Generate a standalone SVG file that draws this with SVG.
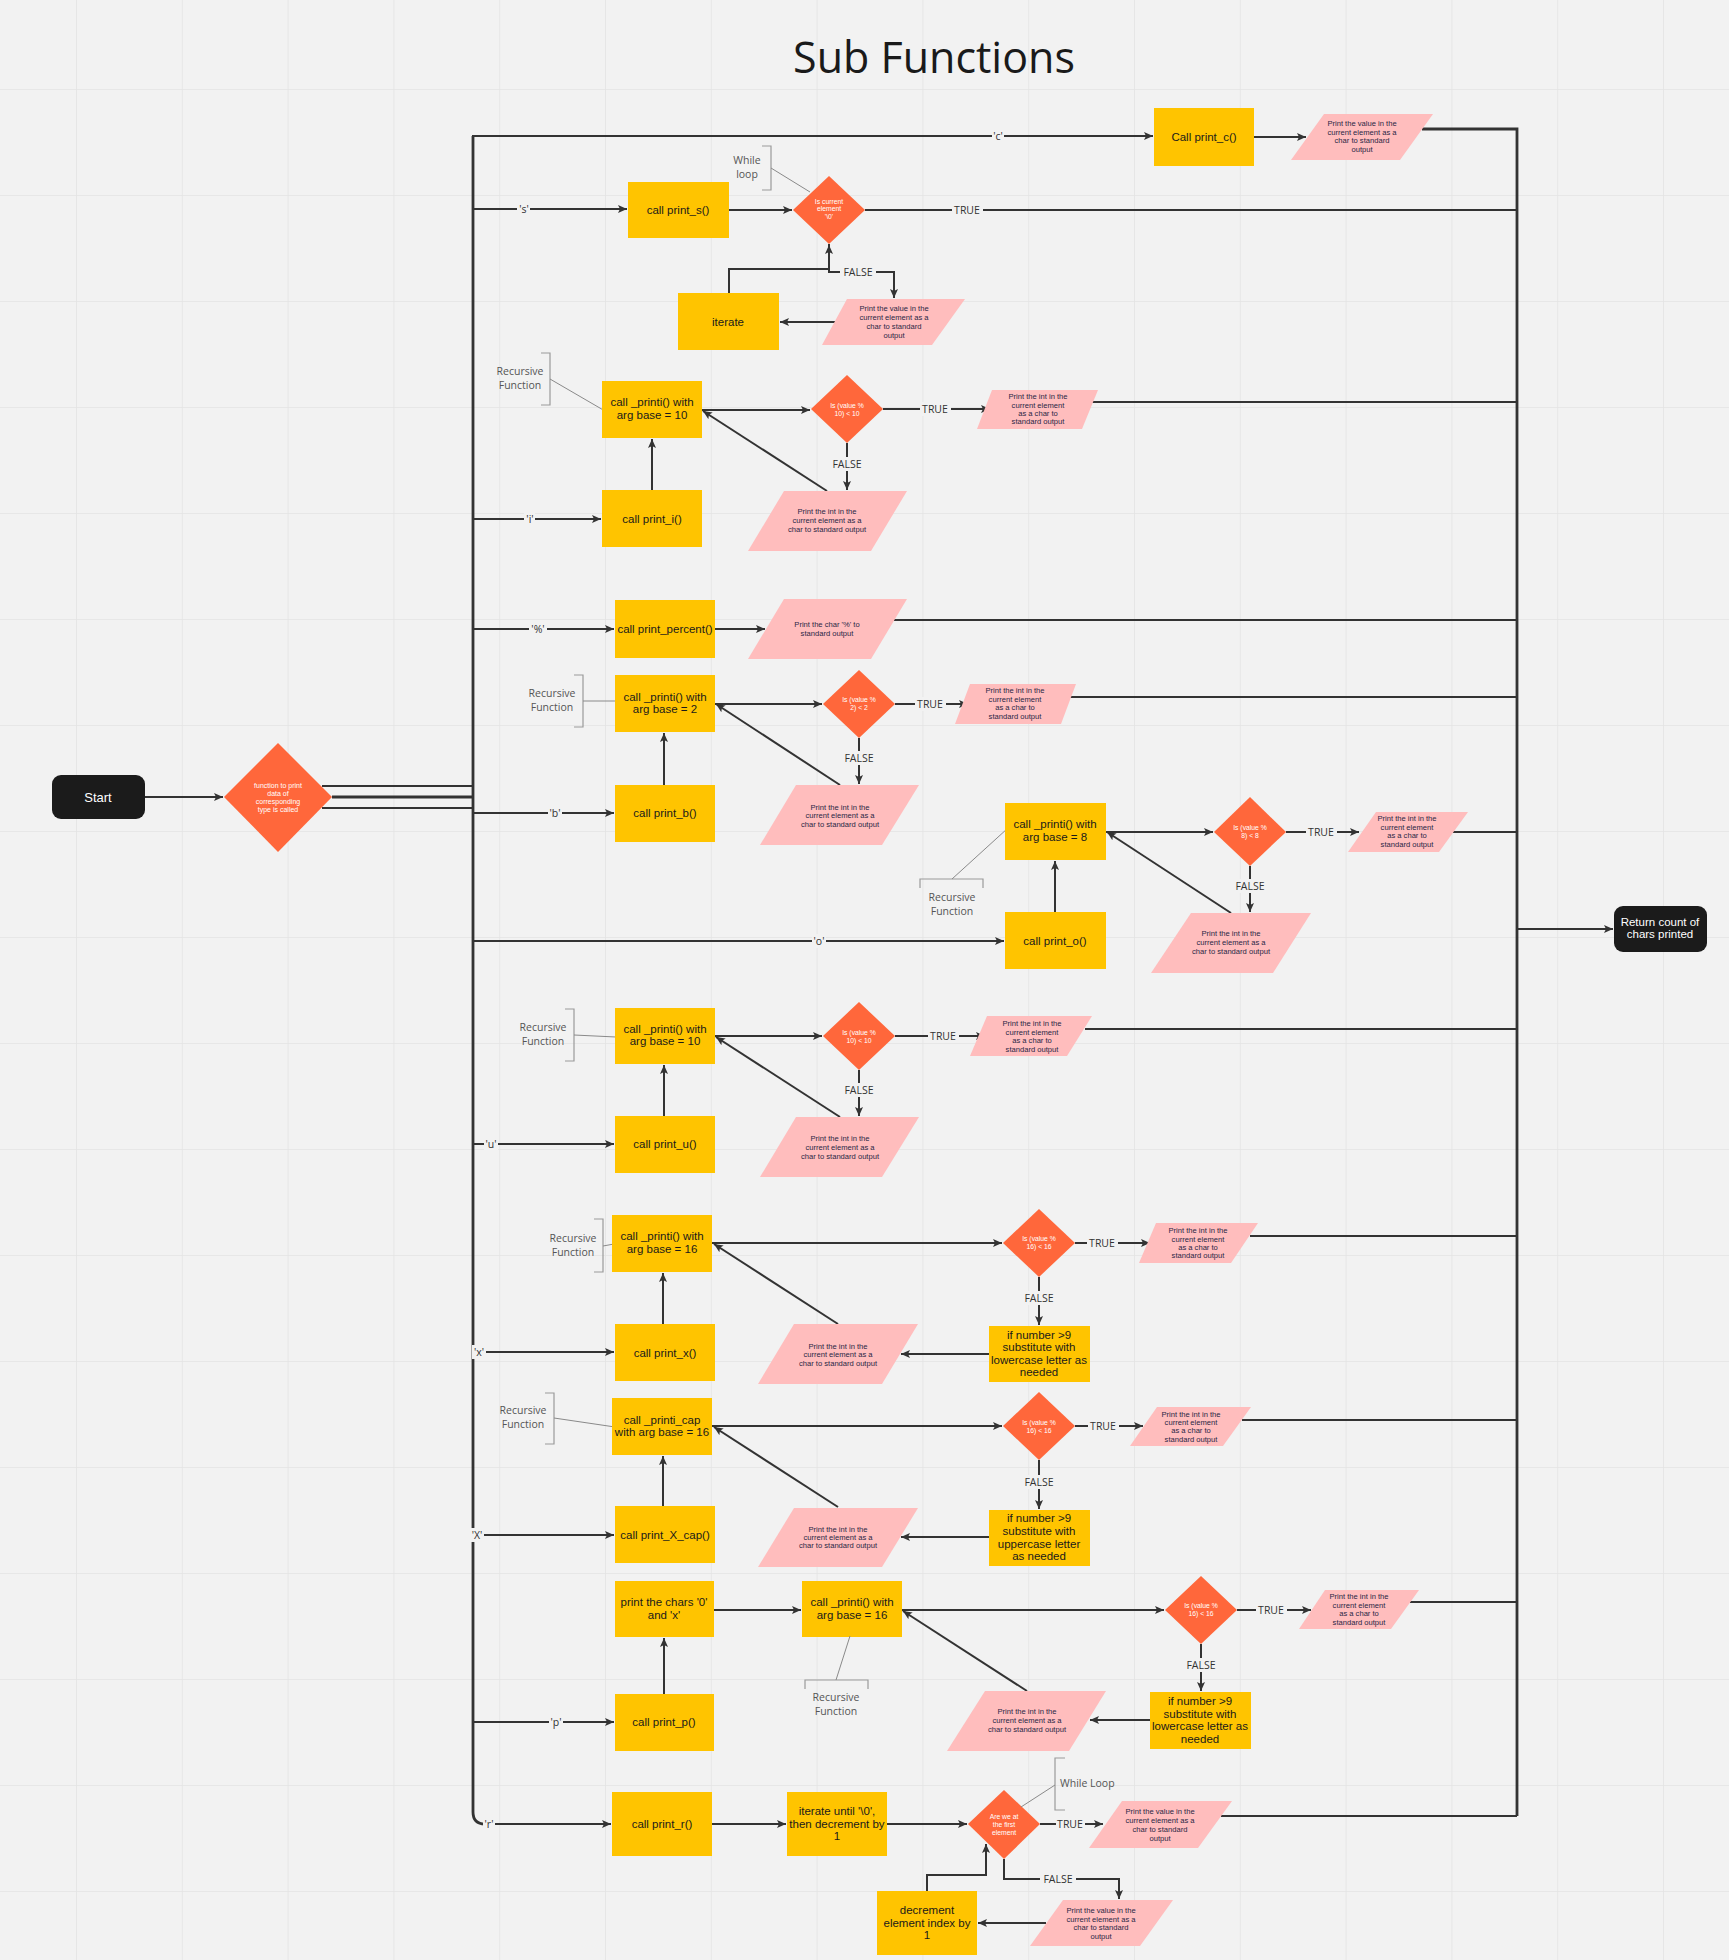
<svg xmlns="http://www.w3.org/2000/svg" width="1729" height="1960" viewBox="0 0 1729 1960">
<defs>
<pattern id="grid" x="76" y="89" width="105.8" height="106" patternUnits="userSpaceOnUse">
<path d="M0,0 V106 M0,0 H105.8" stroke="#e4e4e4" stroke-width="1.6" fill="none"/>
</pattern>
<marker id="ah" markerUnits="userSpaceOnUse" markerWidth="10" markerHeight="10" refX="9" refY="5" orient="auto">
<path d="M0,1 L9,5 L0,9 L2,5 z" fill="#333"/>
</marker>
<style>
.box{fill:#ffc400}
.dia{fill:#ff673b}
.par{fill:#ffbdbd}
.term{fill:#1b1b1b}
.e{stroke:#333;stroke-width:2;fill:none}
.eb{stroke:#333;stroke-width:2.8;fill:none}
.ea{stroke:#333;stroke-width:2;fill:none;marker-end:url(#ah)}
.an{stroke:#8a8a8a;stroke-width:1;fill:none}
.br{stroke:#9a9a9a;stroke-width:1.2;fill:none}
.bt{font-family:"Liberation Sans",Arial,sans-serif;font-size:11.5px;fill:#1a1a1a;text-anchor:middle}
.wt{font-family:"Liberation Sans",Arial,sans-serif;font-size:12px;fill:#ffffff;text-anchor:middle}
.dt{font-family:"Liberation Sans",Arial,sans-serif;font-size:6.8px;fill:#ffffff;text-anchor:middle}
.pt{font-family:"Liberation Sans",Arial,sans-serif;font-size:7.6px;fill:#2a2745;text-anchor:middle}
.lb{fill:#f2f2f2}
.lt{font-family:"Open Sans",sans-serif;font-size:10.5px;fill:#333;text-anchor:middle}
.at{font-family:"Open Sans",sans-serif;font-size:10.5px;fill:#555;text-anchor:middle}
.title{font-family:"Open Sans",sans-serif;font-size:43px;fill:#1a1a1a;text-anchor:middle}
</style>
</defs>
<rect width="1729" height="1960" fill="#f2f2f2"/>
<rect width="1729" height="1960" fill="url(#grid)"/>
<text class="title" x="934" y="73">Sub Functions</text>

<g id="connectors">
<!-- start to main decision -->
<path class="ea" d="M145,797 H223"/>
<path class="e" d="M322,786 H473"/>
<path class="eb" d="M332,797 H474"/>
<path class="e" d="M322,808 H473"/>
<!-- trunk -->
<path class="eb" d="M473,136 V1812 Q473,1824 485,1824"/>
<path class="ea" d="M484,1824 H611"/>
<path class="ea" d="M472,136 H1153"/>
<path class="ea" d="M473,209 H627"/>
<path class="ea" d="M473,519 H601"/>
<path class="ea" d="M473,629 H614"/>
<path class="ea" d="M473,813 H614"/>
<path class="ea" d="M473,941 H1004"/>
<path class="ea" d="M473,1144 H614"/>
<path class="ea" d="M473,1352 H614"/>
<path class="ea" d="M473,1535 H614"/>
<path class="ea" d="M473,1722 H614"/>
<!-- right bus -->
<path class="eb" d="M1422,129 H1517 V1816"/>
<path class="ea" d="M1517,929 H1613"/>
<!-- c -->
<path class="ea" d="M1254,137 H1306"/>
<!-- s -->
<path class="ea" d="M729,210 H792"/>
<path class="e" d="M865,210 H1517"/>
<path class="ea" d="M729,293 V269 H829 V245"/>
<path class="ea" d="M829,244 V272 H894 V298"/>
<path class="ea" d="M838,322 H780"/>
<!-- i -->
<path class="ea" d="M652,490 V439"/>
<path class="ea" d="M702,410 H810"/>
<path class="ea" d="M883,409 H990"/>
<path class="e" d="M1090,402 H1517"/>
<path class="ea" d="M847,443 V490"/>
<path class="ea" d="M827,491 L703,411"/>
<!-- % -->
<path class="ea" d="M715,629 H765"/>
<path class="e" d="M894,620 H1517"/>
<!-- b -->
<path class="ea" d="M664,785 V733"/>
<path class="ea" d="M715,704 H822"/>
<path class="ea" d="M895,704 H968"/>
<path class="e" d="M1068,697 H1517"/>
<path class="ea" d="M859,738 V784"/>
<path class="ea" d="M840,785 L716,704"/>
<!-- o -->
<path class="ea" d="M1055,912 V861"/>
<path class="ea" d="M1106,832 H1213"/>
<path class="ea" d="M1286,832 H1359"/>
<path class="e" d="M1453,832 H1517"/>
<path class="ea" d="M1250,866 V912"/>
<path class="ea" d="M1231,913 L1107,832"/>
<!-- u -->
<path class="ea" d="M664,1116 V1065"/>
<path class="ea" d="M715,1036 H822"/>
<path class="ea" d="M895,1036 H985"/>
<path class="e" d="M1085,1029 H1517"/>
<path class="ea" d="M859,1070 V1116"/>
<path class="ea" d="M840,1117 L716,1037"/>
<!-- x -->
<path class="ea" d="M663,1324 V1273"/>
<path class="ea" d="M712,1243 H1002"/>
<path class="ea" d="M1075,1243 H1150"/>
<path class="e" d="M1250,1236 H1517"/>
<path class="ea" d="M1039,1277 V1325"/>
<path class="ea" d="M989,1354 H901"/>
<path class="ea" d="M838,1324 L714,1244"/>
<!-- X -->
<path class="ea" d="M663,1506 V1456"/>
<path class="ea" d="M712,1426 H1002"/>
<path class="ea" d="M1075,1426 H1143"/>
<path class="e" d="M1242,1420 H1517"/>
<path class="ea" d="M1039,1460 V1509"/>
<path class="ea" d="M989,1537 H901"/>
<path class="ea" d="M838,1507 L714,1427"/>
<!-- p -->
<path class="ea" d="M664,1694 V1638"/>
<path class="ea" d="M714,1610 H801"/>
<path class="ea" d="M902,1610 H1164"/>
<path class="ea" d="M1237,1610 H1311"/>
<path class="e" d="M1410,1602 H1517"/>
<path class="ea" d="M1201,1644 V1691"/>
<path class="ea" d="M1150,1720 H1090"/>
<path class="ea" d="M1027,1691 L903,1611"/>
<!-- r -->
<path class="ea" d="M712,1824 H786"/>
<path class="ea" d="M887,1824 H967"/>
<path class="ea" d="M1040,1824 H1103"/>
<path class="e" d="M1221,1816 H1517"/>
<path class="ea" d="M1004,1859 V1879 H1119 V1899"/>
<path class="ea" d="M1046,1923 H978"/>
<path class="ea" d="M927,1891 V1875 H986 V1844"/>

<!-- labels -->
<rect class="lb" x="992" y="129" width="12" height="14"/><text class="lt" x="998" y="140">'c'</text>
<rect class="lb" x="517" y="202" width="13" height="14"/><text class="lt" x="524" y="213">'s'</text>
<rect class="lb" x="952" y="203" width="31" height="14"/><text class="lt" x="967" y="214">TRUE</text>
<rect class="lb" x="840" y="265" width="36" height="14"/><text class="lt" x="858" y="276">FALSE</text>
<rect class="lb" x="524" y="512" width="11" height="14"/><text class="lt" x="530" y="523">'i'</text>
<rect class="lb" x="920" y="402" width="31" height="14"/><text class="lt" x="935" y="413">TRUE</text>
<rect class="lb" x="829" y="457" width="36" height="14"/><text class="lt" x="847" y="468">FALSE</text>
<rect class="lb" x="529" y="622" width="18" height="14"/><text class="lt" x="538" y="633">'%'</text>
<rect class="lb" x="915" y="697" width="31" height="14"/><text class="lt" x="930" y="708">TRUE</text>
<rect class="lb" x="841" y="751" width="36" height="14"/><text class="lt" x="859" y="762">FALSE</text>
<rect class="lb" x="548" y="806" width="14" height="14"/><text class="lt" x="555" y="817">'b'</text>
<rect class="lb" x="1306" y="825" width="31" height="14"/><text class="lt" x="1321" y="836">TRUE</text>
<rect class="lb" x="1232" y="879" width="36" height="14"/><text class="lt" x="1250" y="890">FALSE</text>
<rect class="lb" x="812" y="934" width="14" height="14"/><text class="lt" x="819" y="945">'o'</text>
<rect class="lb" x="484" y="1137" width="14" height="14"/><text class="lt" x="491" y="1148">'u'</text>
<rect class="lb" x="928" y="1029" width="31" height="14"/><text class="lt" x="943" y="1040">TRUE</text>
<rect class="lb" x="841" y="1083" width="36" height="14"/><text class="lt" x="859" y="1094">FALSE</text>
<rect class="lb" x="472" y="1345" width="14" height="14"/><text class="lt" x="479" y="1356">'x'</text>
<rect class="lb" x="1087" y="1236" width="31" height="14"/><text class="lt" x="1102" y="1247">TRUE</text>
<rect class="lb" x="1021" y="1291" width="36" height="14"/><text class="lt" x="1039" y="1302">FALSE</text>
<rect class="lb" x="470" y="1528" width="14" height="14"/><text class="lt" x="477" y="1539">'X'</text>
<rect class="lb" x="1088" y="1419" width="31" height="14"/><text class="lt" x="1103" y="1430">TRUE</text>
<rect class="lb" x="1021" y="1475" width="36" height="14"/><text class="lt" x="1039" y="1486">FALSE</text>
<rect class="lb" x="549" y="1715" width="14" height="14"/><text class="lt" x="556" y="1726">'p'</text>
<rect class="lb" x="1256" y="1603" width="31" height="14"/><text class="lt" x="1271" y="1614">TRUE</text>
<rect class="lb" x="1183" y="1658" width="36" height="14"/><text class="lt" x="1201" y="1669">FALSE</text>
<rect class="lb" x="483" y="1817" width="12" height="14"/><text class="lt" x="489" y="1828">'r'</text>
<rect class="lb" x="1056" y="1817" width="29" height="14"/><text class="lt" x="1070" y="1828">TRUE</text>
<rect class="lb" x="1040" y="1872" width="36" height="14"/><text class="lt" x="1058" y="1883">FALSE</text>
</g>

<g id="start"><rect class="term" x="52" y="775" width="93" height="44" rx="9"/><text class="wt" x="98" y="802" style="font-size:13px">Start</text></g>
<g id="main-decision"><polygon class="dia" points="278,743 332,797 278,852 224,797"/>
<text class="dt" x="278" y="787.5" style="font-size:7px">function to print</text><text class="dt" x="278" y="795.5" style="font-size:7px">data of</text><text class="dt" x="278" y="803.5" style="font-size:7px">corresponding</text><text class="dt" x="278" y="811.5" style="font-size:7px">type is called</text></g>
<g id="return"><rect class="term" x="1614" y="906" width="93" height="46" rx="9"/><text class="wt" x="1660" y="926" style="font-size:11.5px">Return count of</text><text class="wt" x="1660" y="938" style="font-size:11.5px">chars printed</text></g>

<!-- c -->
<g id="print-c"><rect class="box" x="1154" y="108" width="100" height="58"/><text class="bt" x="1204" y="141">Call print_c()</text></g>
<g id="c-out"><polygon class="par" points="1324,114 1433,114 1400,160 1291,160"/><text class="pt" x="1362" y="125.5">Print the value in the</text><text class="pt" x="1362" y="134.5">current element as a</text><text class="pt" x="1362" y="142.5">char to standard</text><text class="pt" x="1362" y="151.5">output</text></g>

<!-- s -->
<g id="print-s"><rect class="box" x="628" y="182" width="101" height="56"/><text class="bt" x="678" y="214">call print_s()</text></g>
<g id="s-dec"><polygon class="dia" points="829,176 865,210 829,244 793,210"/><text class="dt" x="829" y="204">Is current</text><text class="dt" x="829" y="211">element</text><text class="dt" x="829" y="219">'\0'</text></g>
<g id="s-out"><polygon class="par" points="847,299 965,299 932,345 822,345"/><text class="pt" x="894" y="310.5">Print the value in the</text><text class="pt" x="894" y="320">current element as a</text><text class="pt" x="894" y="328.5">char to standard</text><text class="pt" x="894" y="337.5">output</text></g>
<g id="s-iterate"><rect class="box" x="678" y="293" width="101" height="57"/><text class="bt" x="728" y="326">iterate</text></g>
<g id="s-note"><path class="br" d="M762,146 H771 V190 H762"/><path class="an" d="M771,168 L810,192"/><text class="at" x="747" y="164">While</text><text class="at" x="747" y="178">loop</text></g>

<!-- i -->
<g id="i-note"><path class="br" d="M541,353 H550 V405 H541"/><path class="an" d="M550,379 L605,411"/><text class="at" x="520" y="375">Recursive</text><text class="at" x="520" y="389">Function</text></g>
<g id="i-printi"><rect class="box" x="602" y="381" width="100" height="57"/><text class="bt" x="652" y="406">call _printi() with</text><text class="bt" x="652" y="419">arg base = 10</text></g>
<g id="i-dec"><polygon class="dia" points="847,375 883,409 847,443 811,409"/><text class="dt" x="847" y="407.5">Is (value %</text><text class="dt" x="847" y="415.5">10) &lt; 10</text></g>
<g id="i-true"><polygon class="par" points="992,390 1098,390 1082,429 977,429"/><text class="pt" x="1038" y="398.5">Print the int in the</text><text class="pt" x="1038" y="407.5">current element</text><text class="pt" x="1038" y="415.5">as a char to</text><text class="pt" x="1038" y="423.5">standard output</text></g>
<g id="i-false"><polygon class="par" points="784,491 907,491 871,551 748,551"/><text class="pt" x="827" y="513.5">Print the int in the</text><text class="pt" x="827" y="522.5">current element as a</text><text class="pt" x="827" y="531.5">char to standard output</text></g>
<g id="print-i"><rect class="box" x="602" y="490" width="100" height="57"/><text class="bt" x="652" y="523">call print_i()</text></g>

<!-- % -->
<g id="print-percent"><rect class="box" x="615" y="600" width="100" height="58"/><text class="bt" x="665" y="633">call print_percent()</text></g>
<g id="percent-out"><polygon class="par" points="784,599 907,599 871,659 748,659"/><text class="pt" x="827" y="626.5">Print the char '%'  to</text><text class="pt" x="827" y="635.5">standard output</text></g>

<!-- b -->
<g id="b-note"><path class="br" d="M574,675 H583 V727 H574"/><path class="an" d="M583,701 H615"/><text class="at" x="552" y="697">Recursive</text><text class="at" x="552" y="711">Function</text></g>
<g id="b-printi"><rect class="box" x="615" y="675" width="100" height="57"/><text class="bt" x="665" y="701">call _printi() with</text><text class="bt" x="665" y="713">arg base = 2</text></g>
<g id="b-dec"><polygon class="dia" points="859,670 895,704 859,738 823,704"/><text class="dt" x="859" y="701.5">Is (value %</text><text class="dt" x="859" y="709.5">2) &lt; 2</text></g>
<g id="b-true"><polygon class="par" points="970,684 1076,684 1061,724 955,724"/><text class="pt" x="1015" y="692.5">Print the int in the</text><text class="pt" x="1015" y="701.5">current element</text><text class="pt" x="1015" y="709.5">as a char to</text><text class="pt" x="1015" y="718.5">standard output</text></g>
<g id="b-false"><polygon class="par" points="796,785 919,785 882,845 760,845"/><text class="pt" x="840" y="809.5">Print the int in the</text><text class="pt" x="840" y="817.5">current element as a</text><text class="pt" x="840" y="826.5">char to standard output</text></g>
<g id="print-b"><rect class="box" x="615" y="785" width="100" height="57"/><text class="bt" x="665" y="817">call print_b()</text></g>

<!-- o -->
<g id="o-note"><path class="br" d="M920,888 V879 H983 V888"/><path class="an" d="M952,879 L1008,828"/><text class="at" x="952" y="901">Recursive</text><text class="at" x="952" y="915">Function</text></g>
<g id="o-printi"><rect class="box" x="1005" y="803" width="101" height="57"/><text class="bt" x="1055" y="828">call _printi() with</text><text class="bt" x="1055" y="841">arg base = 8</text></g>
<g id="o-dec"><polygon class="dia" points="1250,797 1286,832 1250,866 1214,832"/><text class="dt" x="1250" y="829.5">Is (value %</text><text class="dt" x="1250" y="837.5">8) &lt; 8</text></g>
<g id="o-true"><polygon class="par" points="1376,812 1468,812 1439,852 1348,852"/><text class="pt" x="1407" y="820.5">Print the int in the</text><text class="pt" x="1407" y="829.5">current element</text><text class="pt" x="1407" y="837.5">as a char to</text><text class="pt" x="1407" y="846.5">standard output</text></g>
<g id="o-false"><polygon class="par" points="1191,913 1311,913 1273,973 1151,973"/><text class="pt" x="1231" y="935.5">Print the int in the</text><text class="pt" x="1231" y="944.5">current element as a</text><text class="pt" x="1231" y="953.5">char to standard output</text></g>
<g id="print-o"><rect class="box" x="1005" y="912" width="101" height="57"/><text class="bt" x="1055" y="945">call print_o()</text></g>

<!-- u -->
<g id="u-note"><path class="br" d="M565,1009 H574 V1061 H565"/><path class="an" d="M574,1035 L616,1037"/><text class="at" x="543" y="1031">Recursive</text><text class="at" x="543" y="1045">Function</text></g>
<g id="u-printi"><rect class="box" x="615" y="1008" width="100" height="56"/><text class="bt" x="665" y="1033">call _printi() with</text><text class="bt" x="665" y="1045">arg base = 10</text></g>
<g id="u-dec"><polygon class="dia" points="859,1002 895,1036 859,1070 823,1036"/><text class="dt" x="859" y="1034.5">Is (value %</text><text class="dt" x="859" y="1042.5">10) &lt; 10</text></g>
<g id="u-true"><polygon class="par" points="987,1016 1092,1016 1067,1056 970,1056"/><text class="pt" x="1032" y="1025.5">Print the int in the</text><text class="pt" x="1032" y="1034.5">current element</text><text class="pt" x="1032" y="1042.5">as a char to</text><text class="pt" x="1032" y="1051.5">standard output</text></g>
<g id="u-false"><polygon class="par" points="796,1117 919,1117 882,1177 760,1177"/><text class="pt" x="840" y="1140.5">Print the int in the</text><text class="pt" x="840" y="1149.5">current element as a</text><text class="pt" x="840" y="1158.5">char to standard output</text></g>
<g id="print-u"><rect class="box" x="615" y="1116" width="100" height="57"/><text class="bt" x="665" y="1148">call print_u()</text></g>

<!-- x -->
<g id="x-note"><path class="br" d="M594,1219 H603 V1272 H594"/><path class="an" d="M603,1246 L614,1244"/><text class="at" x="573" y="1242">Recursive</text><text class="at" x="573" y="1256">Function</text></g>
<g id="x-printi"><rect class="box" x="612" y="1215" width="100" height="57"/><text class="bt" x="662" y="1240">call _printi() with</text><text class="bt" x="662" y="1253">arg base = 16</text></g>
<g id="x-dec"><polygon class="dia" points="1039,1209 1075,1243 1039,1277 1003,1243"/><text class="dt" x="1039" y="1240.5">Is (value %</text><text class="dt" x="1039" y="1248.5">16) &lt; 16</text></g>
<g id="x-true"><polygon class="par" points="1156,1223 1258,1223 1231,1263 1139,1263"/><text class="pt" x="1198" y="1232.5">Print the int in the</text><text class="pt" x="1198" y="1241.5">current element</text><text class="pt" x="1198" y="1249.5">as a char to</text><text class="pt" x="1198" y="1257.5">standard output</text></g>
<g id="x-sub"><rect class="box" x="989" y="1326" width="101" height="56"/><text class="bt" x="1039" y="1339">if number &gt;9</text><text class="bt" x="1039" y="1351">substitute with</text><text class="bt" x="1039" y="1364">lowercase letter as</text><text class="bt" x="1039" y="1376">needed</text></g>
<g id="x-false"><polygon class="par" points="794,1324 918,1324 882,1384 758,1384"/><text class="pt" x="838" y="1348.5">Print the int in the</text><text class="pt" x="838" y="1356.5">current element as a</text><text class="pt" x="838" y="1365.5">char to standard output</text></g>
<g id="print-x"><rect class="box" x="615" y="1324" width="100" height="57"/><text class="bt" x="665" y="1357">call print_x()</text></g>

<!-- X -->
<g id="X-note"><path class="br" d="M545,1393 H554 V1444 H545"/><path class="an" d="M554,1418 L615,1427"/><text class="at" x="523" y="1414">Recursive</text><text class="at" x="523" y="1428">Function</text></g>
<g id="X-printi"><rect class="box" x="612" y="1398" width="100" height="57"/><text class="bt" x="662" y="1424">call _printi_cap</text><text class="bt" x="662" y="1436">with arg base = 16</text></g>
<g id="X-dec"><polygon class="dia" points="1039,1392 1075,1426 1039,1460 1003,1426"/><text class="dt" x="1039" y="1424.5">Is (value %</text><text class="dt" x="1039" y="1432.5">16) &lt; 16</text></g>
<g id="X-true"><polygon class="par" points="1157,1407 1251,1407 1223,1446 1130,1446"/><text class="pt" x="1191" y="1416.5">Print the int in the</text><text class="pt" x="1191" y="1424.5">current element</text><text class="pt" x="1191" y="1432.5">as a char to</text><text class="pt" x="1191" y="1441.5">standard output</text></g>
<g id="X-sub"><rect class="box" x="989" y="1510" width="101" height="56"/><text class="bt" x="1039" y="1522">if number &gt;9</text><text class="bt" x="1039" y="1535">substitute with</text><text class="bt" x="1039" y="1548">uppercase letter</text><text class="bt" x="1039" y="1560">as needed</text></g>
<g id="X-false"><polygon class="par" points="794,1508 918,1508 882,1567 758,1567"/><text class="pt" x="838" y="1531.5">Print the int in the</text><text class="pt" x="838" y="1539.5">current element as a</text><text class="pt" x="838" y="1547.5">char to standard output</text></g>
<g id="print-X"><rect class="box" x="615" y="1506" width="100" height="57"/><text class="bt" x="665" y="1539">call print_X_cap()</text></g>

<!-- p -->
<g id="p-chars"><rect class="box" x="615" y="1581" width="99" height="56"/><text class="bt" x="664" y="1606">print the chars '0'</text><text class="bt" x="664" y="1619">and 'x'</text></g>
<g id="p-printi"><rect class="box" x="802" y="1581" width="100" height="56"/><text class="bt" x="852" y="1606">call _printi() with</text><text class="bt" x="852" y="1619">arg base = 16</text></g>
<g id="p-note"><path class="br" d="M805,1689 V1680 H868 V1689"/><path class="an" d="M836,1680 L850,1636"/><text class="at" x="836" y="1701">Recursive</text><text class="at" x="836" y="1715">Function</text></g>
<g id="p-dec"><polygon class="dia" points="1201,1576 1237,1610 1201,1644 1165,1610"/><text class="dt" x="1201" y="1607.5">Is (value %</text><text class="dt" x="1201" y="1616">16) &lt; 16</text></g>
<g id="p-true"><polygon class="par" points="1325,1590 1419,1590 1391,1629 1299,1629"/><text class="pt" x="1359" y="1598.5">Print the int in the</text><text class="pt" x="1359" y="1607.5">current element</text><text class="pt" x="1359" y="1616">as a char to</text><text class="pt" x="1359" y="1624.5">standard output</text></g>
<g id="p-sub"><rect class="box" x="1150" y="1692" width="101" height="57"/><text class="bt" x="1200" y="1705">if number &gt;9</text><text class="bt" x="1200" y="1718">substitute with</text><text class="bt" x="1200" y="1730">lowercase letter as</text><text class="bt" x="1200" y="1743">needed</text></g>
<g id="p-false"><polygon class="par" points="985,1691 1106,1691 1069,1751 947,1751"/><text class="pt" x="1027" y="1713.5">Print the int in the</text><text class="pt" x="1027" y="1722.5">current element as a</text><text class="pt" x="1027" y="1731.5">char to standard output</text></g>
<g id="print-p"><rect class="box" x="615" y="1694" width="99" height="57"/><text class="bt" x="664" y="1726">call print_p()</text></g>

<!-- r -->
<g id="print-r"><rect class="box" x="612" y="1792" width="100" height="64"/><text class="bt" x="662" y="1828">call print_r()</text></g>
<g id="r-iterate"><rect class="box" x="787" y="1792" width="100" height="64"/><text class="bt" x="837" y="1815">iterate until '\0',</text><text class="bt" x="837" y="1828">then decrement by</text><text class="bt" x="837" y="1840">1</text></g>
<g id="r-dec"><polygon class="dia" points="1004,1790 1040,1824 1004,1859 968,1824"/><text class="dt" x="1004" y="1818.5">Are we at</text><text class="dt" x="1004" y="1826.5">the first</text><text class="dt" x="1004" y="1834.5">element</text></g>
<g id="r-note"><path class="br" d="M1065,1758 H1055 V1810 H1065"/><path class="an" d="M1055,1785 L1021,1807"/><text class="at" x="1060" y="1787" style="text-anchor:start">While Loop</text></g>
<g id="r-true"><polygon class="par" points="1122,1801 1232,1801 1198,1848 1089,1848"/><text class="pt" x="1160" y="1813.5">Print the value in the</text><text class="pt" x="1160" y="1822.5">current element as a</text><text class="pt" x="1160" y="1831.5">char to standard</text><text class="pt" x="1160" y="1840.5">output</text></g>
<g id="r-false"><polygon class="par" points="1063,1900 1173,1900 1140,1946 1030,1946"/><text class="pt" x="1101" y="1912.5">Print the value in the</text><text class="pt" x="1101" y="1921.5">current element as a</text><text class="pt" x="1101" y="1929.5">char to standard</text><text class="pt" x="1101" y="1938.5">output</text></g>
<g id="r-decrement"><rect class="box" x="877" y="1891" width="100" height="64"/><text class="bt" x="927" y="1914">decrement</text><text class="bt" x="927" y="1927">element index by</text><text class="bt" x="927" y="1939">1</text></g>
</svg>
